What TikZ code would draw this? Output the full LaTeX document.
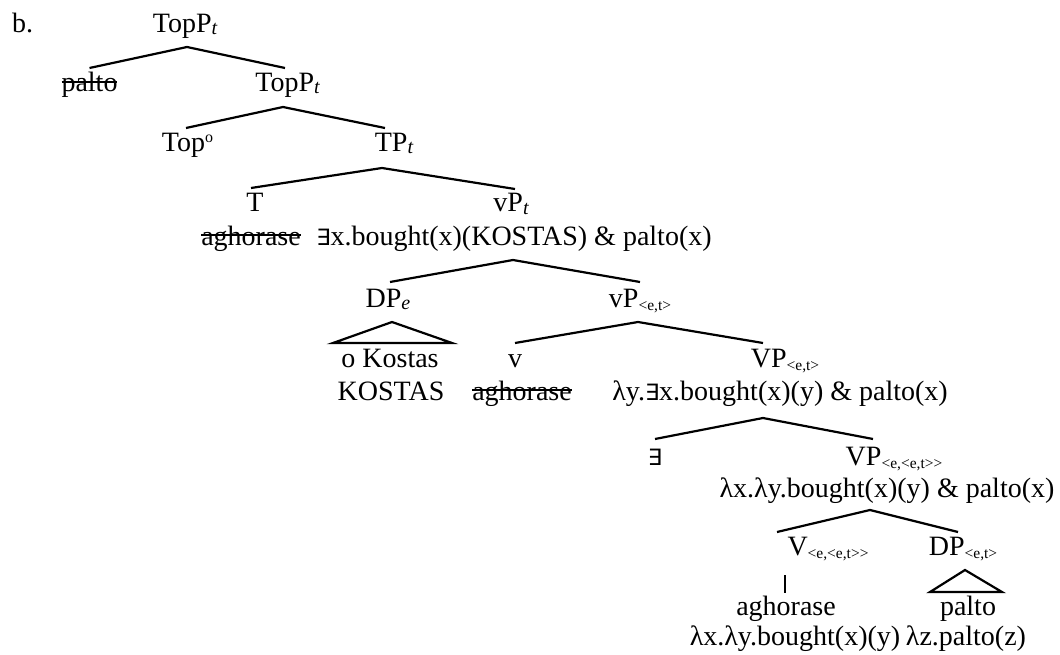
\documentclass[tikz,border=0pt]{standalone}
\usepackage{fontspec}
\setmainfont{Liberation Serif}
\newfontfamily\dvs{DejaVu Sans}
\usetikzlibrary{calc}
\newsavebox\strkbox
\newcommand\strk[1]{\sbox\strkbox{#1}\rlap{\rule[9pt]{\wd\strkbox}{2pt}}\usebox\strkbox}
\newcommand\sbi[1]{\raisebox{-2pt}{\fontsize{20}{20}\selectfont\itshape #1}}
\newcommand\sbt[1]{\raisebox{-3pt}{\fontsize{15.5}{15.5}\selectfont #1}}
\newcommand\Ex{{\dvs\fontsize{22.5}{22.5}\selectfont ∃}}
\begin{document}
\begin{tikzpicture}[x=1pt,y=-1pt,
  every node/.style={inner sep=0pt, anchor=base, font=\fontsize{28}{33}\selectfont},
  br/.style={line width=2.2pt, line join=miter}]
\useasboundingbox (0,0) rectangle (1060,655);
\node[anchor=base west] (lab) at (12,33) {b.};
\node (n1) at (185,33) {TopP\sbi{t}};
\node (palto1) at (89.5,92) {\strk{palto}};
\node (n2) at (287.5,92) {TopP\sbi{t}};
\node (top0) at (187.5,152) {Top\raisebox{9pt}{\fontsize{16}{16}\selectfont o}};
\node (n3) at (394,152) {TP\sbi{t}};
\node (T) at (255,212) {T};
\node (Tsem) at (251,245) {\strk{aghorase}};
\node (vPt) at (511,212) {vP\sbi{t}};
\node (vPtsem) at (514,245) {\Ex x.bought(x)(KOSTAS) \& palto(x)};
\node (DPe) at (388,307) {DP\sbi{e}};
\node (vPet) at (640,307) {vP\sbt{<e,t>}};
\node (oK) at (390,367) {o Kostas};
\node (KOS) at (391,400) {KOSTAS};
\node (v) at (515,367) {v};
\node (vsem) at (522,400) {\strk{aghorase}};
\node (VPet) at (785,367) {VP\sbt{<e,t>}};
\node (VPetsem) at (780,400) {λy.\Ex x.bought(x)(y) \& palto(x)};
\node (ex) at (655,465) {\Ex};
\node (VPeet) at (894,465) {VP\sbt{<e,<e,t>{}>}};
\node (VPeetsem) at (887,497) {λx.λy.bought(x)(y) \& palto(x)};
\node (Veet) at (828,555) {V\sbt{<e,<e,t>{}>}};
\node (DPet) at (963,555) {DP\sbt{<e,t>}};
\node (agh3) at (786,615) {aghorase};
\node (Vsem) at (795,645) {λx.λy.bought(x)(y)};
\node (palto3) at (968,615) {palto};
\node (DPsem) at (966,645) {λz.palto(z)};
% branches
\draw[br] ($(palto1.base)+(0,-24)$) -- ($(n1.base)+(2,14)$) -- ($(n2.base)+(-2.5,-24)$);
\draw[br] ($(top0.base)+(-1.5,-24)$) -- ($(n2.base)+(-4.5,15)$) -- ($(n3.base)+(-9,-24)$);
\draw[br] ($(T.base)+(-4,-24)$) -- ($(n3.base)+(-12,16)$) -- ($(vPt.base)+(4,-23)$);
\draw[br] ($(DPe.base)+(2,-25)$) -- ($(vPtsem.base)+(-1,15)$) -- ($(vPet.base)+(0,-25)$);
\draw[br] ($(v.base)+(0,-24)$) -- ($(vPet.base)+(-2,15)$) -- ($(VPet.base)+(-22,-24)$);
\draw[br] ($(ex.base)+(0,-26)$) -- ($(VPetsem.base)+(-17,18)$) -- ($(VPeet.base)+(-21,-26)$);
\draw[br] ($(Veet.base)+(-51,-23)$) -- ($(VPeetsem.base)+(-17,13)$) -- ($(DPet.base)+(-5,-23)$);
% triangles and bar
\draw[br] ($(DPe.base)+(4,15)$) -- ($(oK.base)+(-57,-24)$) -- ($(oK.base)+(62,-24)$) -- cycle;
\draw[br] ($(DPet.base)+(2,15)$) -- ($(palto3.base)+(-38,-23)$) -- ($(palto3.base)+(34,-23)$) -- cycle;
\draw[br] ($(Veet.base)+(-43,20)$) -- ($(agh3.base)+(-1,-22)$);
\end{tikzpicture}
\end{document}
